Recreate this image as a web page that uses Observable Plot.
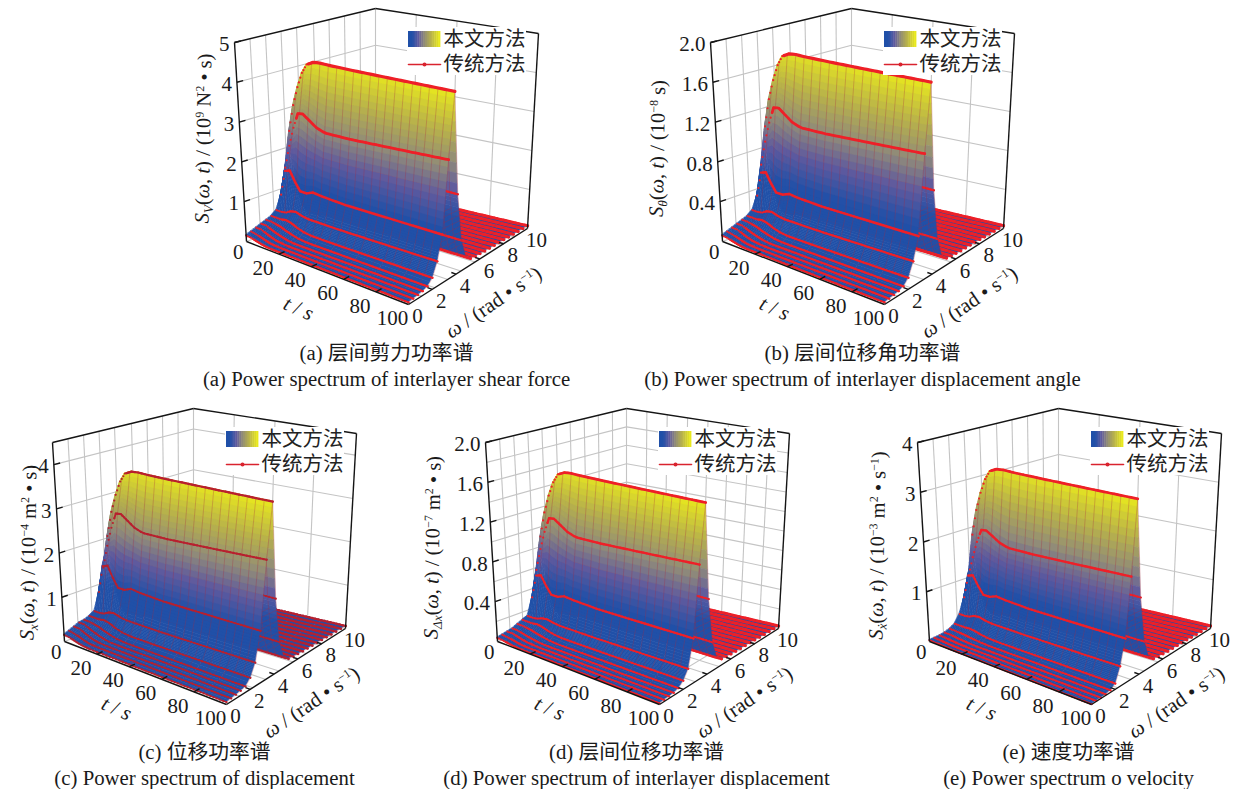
<!DOCTYPE html>
<html><head><meta charset="utf-8">
<style>html,body{margin:0;padding:0;background:#fff}svg{display:block}</style>
<script src="https://cdn.jsdelivr.net/npm/d3@7"></script>
<script src="https://cdn.jsdelivr.net/npm/@observablehq/plot@0.6"></script>
</head><body><div id="chart"></div>
<script>
// ---- values (fraction of the z axis, panel a) ----
const tKnots = [0,3,6,9,12,16,20,25,40,100];
const omegaFront = [0,0.4,0.8,1.2,1.6,2.0,2.4,2.8,3.2,3.6];
const w00 = [.030,.028,.022,.016,.012,.010,.010,.010,.010,.010];
const w04 = [.040,.036,.030,.022,.016,.014,.013,.013,.013,.013];
const w08 = [.050,.050,.040,.030,.022,.018,.016,.016,.016,.016];
const w12 = [.060,.060,.050,.040,.032,.024,.020,.020,.020,.020];
const w16 = [.070,.070,.065,.060,.050,.040,.032,.028,.028,.028];
const w20 = [.080,.080,.080,.085,.080,.065,.055,.050,.050,.055];
const w24 = [.100,.100,.105,.120,.125,.115,.110,.110,.110,.120];
const w28 = [.170,.300,.310,.260,.220,.220,.235,.230,.225,.235];
const w32 = [.300,.420,.520,.600,.605,.580,.555,.540,.545,.585];
const w36 = [.480,.620,.720,.800,.850,.870,.875,.875,.880,.905];
const lineStart = [5,5,5,5,6,7,8,4,8,13];
const omegaBack = [4.0,4.4,4.8,5.2,5.6,6.0,6.4,6.8,7.2,7.6,8.0,8.4,8.8,9.2,9.6,10];
const backValues = [.39,.15,.055,.032,.028,.026,.024,.023,.022,.021,.020,.018,.017,.016,.015,.014];
const tickT = [0,20,40,60,80,100];
const tickOmega = [0,2,4,6,8,10];
const gridOmega = [1.1,2.2,3.3,4.4,5.6,6.7,7.8,8.9];
const gridT = [25,50,75];
const gridOmegaDense = [1,2,3,4,5,6,7,8,9];
const gridTDense = [12.5,25,37.5,50,62.5,75,87.5];
const meshT = [5,10,15,20,25,30,35,40,45,50,55,60,65,70,75,80,85,90,95,100];
const surfaceT = [0,1,2,3,4,5,6,7,8,9,10,11,12,13,14,15,16,18,20,25,30,40,55,70,85,100];
const lineT = [0,1,2,3,4,5,6,7,8,9,10,11,12,13,14,15,16,18,20,22,24,26,28,30,32,34,36,38,40,42,44,46,48,50,52,54,56,58,60,62,64,66,68,70,72,74,76,78,80,82,84,86,88,90,92,94,96,98,100];
const legendStops = [.2,.25,.3,.35,.4,.45,.5,.55,.6,.65,.7,.75,.8,.85,.9,.95,1];
const legendNames = ["本文方法","传统方法"];
const colorStops = [.28,.45,.6,.78,1];
const colorValues = ["#2050a8","#5f5a9e","#8f8a7a","#b6b04c","#e8e81e"];

const panelA = {dx:0,dy:0,top:5,ticks:[0,1,2,3,4,5],labels:["0","1","2","3","4","5"],grid:[1,2,3,4],
  gain:[1,1,1,1,1,1,1,1,1,1],red:"#ee2028",lw:1,backW:3,dense:false,
  title:"[i:S][b:V]([i:ω], [i:t]) / (10[p:9] N[p:2] • s)",tx:203,ty:138,
  cap1:"(a) 层间剪力功率谱",cap2:"(a) Power spectrum of interlayer shear force",cx:386,cy:353};
const panelB = {dx:476,dy:0,top:2,ticks:[0,.4,.8,1.2,1.6,2],labels:["0","0.4","0.8","1.2","1.6","2.0"],grid:[.4,.8,1.2,1.6],
  gain:[1,1,1,1,1,1,1,.97,1.05,1.05],red:"#ee2028",lw:1,backW:3,dense:false,
  title:"[i:S][b:θ]([i:ω], [i:t]) / (10[p:−8] s)",tx:657,ty:148,
  cap1:"(b) 层间位移角功率谱",cap2:"(b) Power spectrum of interlayer displacement angle",cx:862,cy:353};
const panelC = {dx:-182,dy:400,top:4.5,ticks:[0,1,2,3,4],labels:["0","1","2","3","4"],grid:[1,2,3,4],
  gain:[1.1,1.1,1.1,1.1,1,1,.95,1.08,1,.945],red:"#b8202e",lw:.7,backW:2,dense:false,
  title:"[i:S][b:x]([i:ω], [i:t]) / (10[p:−4] m[p:2] • s)",tx:28,ty:552,
  cap1:"(c) 位移功率谱",cap2:"(c) Power spectrum of displacement",cx:204,cy:752};
const panelD = {dx:251,dy:400,top:2,ticks:[0,.4,.8,1.2,1.6,2],labels:["0","0.4","0.8","1.2","1.6","2.0"],grid:[.2,.4,.6,.8,1,1.2,1.4,1.6,1.8],
  gain:[.6,.6,.6,.6,.7,.75,.7,.92,.96,.94],red:"#ee2028",lw:.85,backW:3,dense:true,
  title:"[i:S][b:Δx]([i:ω], [i:t]) / (10[p:−7] m[p:2] • s)",tx:432,ty:547,
  cap1:"(d) 层间位移功率谱",cap2:"(d) Power spectrum of interlayer displacement",cx:636,cy:752};
const panelE = {dx:683,dy:400,top:4,ticks:[0,1,2,3,4],labels:["0","1","2","3","4"],grid:[1,2,3],
  gain:[.2,.2,.2,.25,.35,.5,.8,.92,.86,.96],red:"#ee2028",lw:.85,backW:3,dense:false,
  title:"[i:S][b:ẋ]([i:ω], [i:t]) / (10[p:−3] m[p:2] • s[p:−1])",tx:877,ty:545,
  cap1:"(e) 速度功率谱",cap2:"(e) Power spectrum o velocity",cx:1068,cy:752};
const panels = [panelA,panelB,panelC,panelD,panelE];

// box corners of the perspective view, panel (a)
const cube = {L0:[246,241],F0:[408,304],B0:[375,192],R0:[527,228],L1:[234,42],F1:[408,93],B1:[375,8],R1:[538,33]};

const frontRows = [w00,w04,w08,w12,w16,w20,w24,w28,w32,w36];
const omegaAll = omegaFront.concat(omegaBack);
const lerp = (a,b,f)=>a+(b-a)*f;
function interpT(row,t){
  let j = d3.bisectRight(tKnots,t)-1; if(j>=tKnots.length-1) return row[row.length-1];
  return lerp(row[j],row[j+1],(t-tKnots[j])/(tKnots[j+1]-tKnots[j]));
}
function rowValue(P,k,t){
  if(k<frontRows.length) return interpT(frontRows[k],t)*P.gain[k];
  return backValues[k-frontRows.length]*P.gain[9]*interpT(w36,t)/w36[w36.length-1];
}
function project(P,t,w,f){
  const u=t/100,v=w/10;
  const bl=(a,b,c,d,i)=>lerp(lerp(cube[a][i],cube[b][i],u),lerp(cube[c][i],cube[d][i],u),v);
  return [bl("L0","F0","B0","R0",0)+f*(bl("L1","F1","B1","R1",0)-bl("L0","F0","B0","R0",0))+P.dx,
          bl("L0","F0","B0","R0",1)+f*(bl("L1","F1","B1","R1",1)-bl("L0","F0","B0","R0",1))+P.dy];
}
const link=(P,a,b)=>{const p=project(P,...a),q=project(P,...b);return {x1:p[0],y1:p[1],x2:q[0],y2:q[1]};};

const marks=[];
const serif='"Liberation Serif","Noto Sans CJK SC"';
let qid=0;
function stripMark(P,k){
  const subs = k<5 ? 2 : (k<13 ? 10 : 1);
  const peak = w36[w36.length-1]*P.gain[9];
  const rows=[];
  for(let s=0;s<subs;s++){
    const fa=s/subs, fb=(s+1)/subs;
    const wa=lerp(omegaAll[k],omegaAll[k+1],fa), wb=lerp(omegaAll[k],omegaAll[k+1],fb);
    for(let j=0;j<surfaceT.length-1;j++){
      const id=qid++;
      const ts=[surfaceT[j],surfaceT[j+1]];
      let sum=0; const two=[];
      for(const t of ts){
        const v0=rowValue(P,k,t),v1=rowValue(P,k+1,t);
        const za=lerp(v0,v1,fa),zb=lerp(v0,v1,fb);
        sum+=za+zb;
        const a=project(P,t,wa,za),b=project(P,t,wb,zb);
        two.push({id,x1:a[0],y1:a[1],x2:b[0],y2:b[1]});
      }
      two.forEach(r=>{r.c=sum/4/peak;rows.push(r);});
    }
  }
  return Plot.area(rows,{x1:"x1",y1:"y1",x2:"x2",y2:"y2",z:"id",fill:"c",stroke:"c",strokeWidth:.6});
}
function lineMarks(P,k){
  const all=lineT.map(t=>{const p=project(P,t,omegaAll[k],rowValue(P,k,t));return {t,x:p[0],y:p[1]};});
  const from = k<lineStart.length ? lineStart[k] : 0;
  const solid=all.filter(d=>d.t>=from);
  const w = k>12 ? P.backW : (k===9?3.2:(k===8?2.8:(k===7?2.5:2.1)))*P.lw;
  return [Plot.line(solid,{x:"x",y:"y",stroke:P.red,strokeWidth:w}),
          Plot.dot(all,{x:"x",y:"y",r:(k>12?1.3:1.1),fill:P.red,stroke:"none"})];
}
function meshLine(P,t,from,to){
  const pts=[];
  for(let k=from;k<=to;k++){const p=project(P,t,omegaAll[k],rowValue(P,k,t));pts.push({x:p[0],y:p[1]});}
  return Plot.line(pts,{x:"x",y:"y",stroke:"#a8283c",strokeOpacity:.28,strokeWidth:1});
}

for(const P of panels){
  // walls and floor grid
  const gw=P.dense?gridOmegaDense:gridOmega, gt=P.dense?gridTDense:gridT;
  const grid=[];
  for(const w of gw){grid.push(link(P,[0,w,0],[0,w,1]));grid.push(link(P,[0,w,0],[100,w,0]));}
  for(const t of gt){grid.push(link(P,[t,10,0],[t,10,1]));grid.push(link(P,[t,0,0],[t,10,0]));}
  for(const z of P.grid){grid.push(link(P,[0,0,z/P.top],[0,10,z/P.top]));grid.push(link(P,[0,10,z/P.top],[100,10,z/P.top]));}
  grid.push(link(P,[0,10,0],[0,10,1]));
  grid.push(link(P,[0,10,0],[100,10,0]));
  grid.push(link(P,[0,0,0],[0,10,0]));
  marks.push(Plot.link(grid,{x1:"x1",y1:"y1",x2:"x2",y2:"y2",stroke:"#c4c4c4",strokeWidth:1.1}));
  // surface, back to front
  for(let k=omegaAll.length-2;k>=9;k--){
    marks.push(stripMark(P,k));
    if(k+1>9) marks.push(...lineMarks(P,k+1));
  }
  for(const t of meshT) marks.push(meshLine(P,t,9,omegaAll.length-1));
  for(let k=8;k>=0;k--) marks.push(stripMark(P,k));
  for(const t of meshT) marks.push(meshLine(P,t,0,9));
  for(let k=9;k>=0;k--) marks.push(...lineMarks(P,k));
  // box
  const box=[link(P,[0,0,0],[0,0,1]),link(P,[0,0,1],[0,10,1]),link(P,[0,10,1],[100,10,1]),
             link(P,[100,10,1],[100,10,0]),link(P,[0,0,0],[100,0,0]),link(P,[100,0,0],[100,10,0])];
  for(const t of tickT.slice(1,-1)) box.push(link(P,[t,0,0],[t,.45,0]));
  for(const w of tickOmega.slice(1,-1)) box.push(link(P,[100,w,0],[97,w,0]));
  for(const z of P.ticks.slice(1)) box.push(link(P,[0,0,z/P.top],[0,.45,z/P.top]));
  marks.push(Plot.link(box,{x1:"x1",y1:"y1",x2:"x2",y2:"y2",stroke:"#151515",strokeWidth:1.4}));
  // tick labels
  const tk=tickT.map(t=>{const p=project(P,t,0,0);return {x:p[0],y:p[1],s:String(t)};});
  marks.push(Plot.text(tk.slice(1),{x:"x",y:"y",text:"s",dx:-16,dy:14,fontFamily:serif,fontSize:21,fill:"#1a1a1a"}));
  const wk=tickOmega.map(w=>{const p=project(P,100,w,0);return {x:p[0],y:p[1],s:String(w)};});
  marks.push(Plot.text(wk,{x:"x",y:"y",text:"s",dx:9,dy:12,fontFamily:serif,fontSize:21,fill:"#1a1a1a"}));
  const zk=P.ticks.map((z,i)=>{const p=project(P,0,0,z/P.top);return {x:p[0],y:p[1],s:P.labels[i],zero:z===0};});
  marks.push(Plot.text(zk.filter(d=>!d.zero),{x:"x",y:"y",text:"s",dx:-5,dy:2,textAnchor:"end",fontFamily:serif,fontSize:21,fill:"#1a1a1a"}));
  marks.push(Plot.text(zk.filter(d=>d.zero),{x:"x",y:"y",text:"s",dx:-3,dy:11,textAnchor:"end",fontFamily:serif,fontSize:21,fill:"#1a1a1a"}));
  // axis titles
  marks.push(Plot.text([{x:P.tx,y:P.ty,s:P.title}],{x:"x",y:"y",text:"s",rotate:-89,fontFamily:serif,fontSize:20.5,fill:"#1a1a1a"}));
  const L=project(P,0,0,0);
  marks.push(Plot.text([{x:L[0]+52,y:L[1]+67,s:"[i:t] / [i:s]"}],{x:"x",y:"y",text:"s",rotate:24,fontFamily:serif,fontSize:21,fill:"#1a1a1a"}));
  marks.push(Plot.text([{x:L[0]+247,y:L[1]+61,s:"[i:ω] / (rad • s[p:−1])"}],{x:"x",y:"y",text:"s",rotate:-34,fontFamily:serif,fontSize:21,fill:"#1a1a1a"}));
  // legend
  const a=[407+P.dx,27+P.dy];
  marks.push(Plot.rect([{x1:a[0],x2:a[0]+119,y1:a[1],y2:a[1]+48}],{x1:"x1",x2:"x2",y1:"y1",y2:"y2",fill:"#fff",stroke:"none"}));
  const bw=32/legendStops.length;
  marks.push(Plot.rect(legendStops.map((c,i)=>({c,x1:a[0]+1+i*bw,x2:a[0]+1+(i+1)*bw+.4,y1:a[1]+4,y2:a[1]+20})),{x1:"x1",x2:"x2",y1:"y1",y2:"y2",fill:"c",inset:0}));
  const ly=[{x:a[0]+1,y:a[1]+37},{x:a[0]+33,y:a[1]+37}];
  marks.push(Plot.line(ly,{x:"x",y:"y",stroke:"#d9232e",strokeWidth:1.6}));
  marks.push(Plot.dot([{x:a[0]+17,y:a[1]+37}],{x:"x",y:"y",r:2,fill:"#d9232e",stroke:"none"}));
  marks.push(Plot.text(legendNames.map((s,i)=>({s,x:a[0]+36,y:a[1]+12+i*25})),{x:"x",y:"y",text:"s",textAnchor:"start",fontFamily:'"Noto Sans CJK SC"',fontSize:20.5,fill:"#222"}));
  // captions
  marks.push(Plot.text([{x:P.cx,y:P.cy,s:P.cap1},{x:P.cx,y:P.cy+26,s:P.cap2}],{x:"x",y:"y",text:"s",fontFamily:serif,fontSize:20.8,fill:"#1a1a1a"}));
}

const plot=Plot.plot({
  width:1236,height:789,margin:0,
  style:{background:"#fff"},
  x:{domain:[0,1236],range:[0,1236],axis:null},
  y:{domain:[0,789],range:[0,789],axis:null},
  color:{type:"linear",domain:colorStops,range:colorValues,clamp:true,interpolate:"rgb"},
  marks
});
// light text markup -> tspans (italic, subscript, superscript)
for(const el of plot.querySelectorAll("text")){
  const s=el.textContent; if(!/\[[ibp]:/.test(s)) continue;
  el.textContent="";
  const re=/\[([ibp]):([^\]]*)\]|([^\[]+)/g; let m,back=0;
  while((m=re.exec(s))){
    const ts=document.createElementNS("http://www.w3.org/2000/svg","tspan");
    let dy=back; back=0;
    if(m[1]==="i"){ts.setAttribute("font-style","italic");ts.textContent=m[2];}
    else if(m[1]==="b"){ts.setAttribute("font-style","italic");ts.setAttribute("font-size","13");dy+=4;back=-4;ts.textContent=m[2];}
    else if(m[1]==="p"){ts.setAttribute("font-size","12");dy+=-7;back=7;ts.textContent=m[2];}
    else ts.textContent=m[3];
    if(dy) ts.setAttribute("dy",dy);
    el.appendChild(ts);
  }
}
document.getElementById("chart").appendChild(plot);
</script></body></html>
